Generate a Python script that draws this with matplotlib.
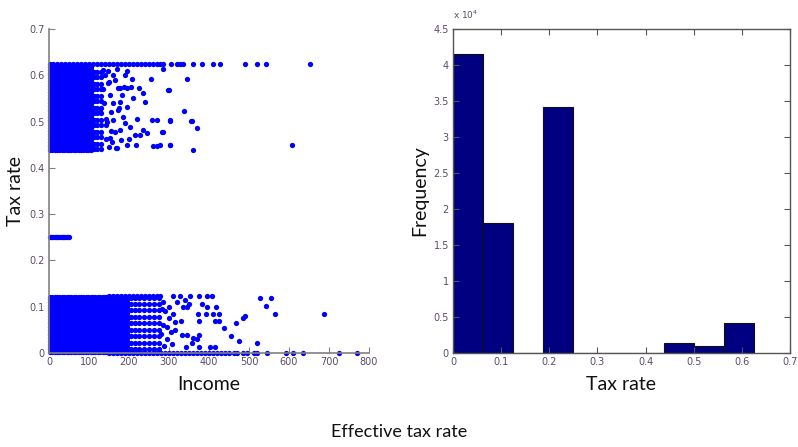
import numpy as np
import matplotlib
matplotlib.use("Agg")
import matplotlib.pyplot as plt
from matplotlib.ticker import FuncFormatter

# ---------------- data ----------------
# dense core of the high-rate band (every income level x every rate level)
upper_core_income = [2, 8, 14, 20, 26, 32, 38, 44, 50, 56, 62, 68, 74, 80, 86, 92,
                     98, 104]
upper_core_tax = [0.438, 0.444, 0.450, 0.456, 0.462, 0.468, 0.474, 0.480, 0.486,
                  0.492, 0.498, 0.504, 0.510, 0.516, 0.522, 0.528, 0.534, 0.540,
                  0.546, 0.552, 0.558, 0.564, 0.570, 0.576, 0.582, 0.588, 0.594,
                  0.600, 0.606, 0.612, 0.618]
upper_edge_income = [112, 121, 130]
upper_edge_tax = [0.440, 0.452, 0.466, 0.478, 0.492, 0.504, 0.518, 0.530, 0.544,
                  0.556, 0.570, 0.582, 0.596, 0.608]
# top line at the maximum rate
top_line_income = [2, 10, 20, 30, 40, 50, 60, 70, 80, 90, 100, 110, 120, 130, 140,
                   150, 160, 170, 180, 190, 200, 210, 220, 230, 240, 250, 260, 270,
                   278, 285, 305, 320, 328, 335, 360, 383, 410, 428, 490, 520, 543, 653]
top_line_tax = 0.625
# scattered points of the high-rate band
upper_scatter_income = [169, 196, 207, 254, 345, 225, 196, 178, 298, 235, 210, 240,
                        178, 195, 173, 338, 185, 220, 257, 270, 302, 357, 160, 190,
                        202, 177, 235, 215, 228, 245, 285, 370, 152, 195, 217, 260,
                        270, 302, 360, 170, 158, 182, 152, 160, 135, 148, 165, 143,
                        128, 285, 300, 303, 355, 283, 278, 303, 608, 140, 150, 138,
                        145, 155, 142, 150, 136, 165, 172, 188, 205, 148, 160, 175,
                        142, 180, 200, 155, 168, 190]
upper_scatter_tax = [0.613, 0.610, 0.593, 0.592, 0.592, 0.572, 0.572, 0.572, 0.568,
                     0.562, 0.551, 0.542, 0.542, 0.531, 0.524, 0.523, 0.510, 0.505,
                     0.503, 0.503, 0.503, 0.501, 0.503, 0.497, 0.488, 0.482, 0.482,
                     0.471, 0.471, 0.475, 0.477, 0.486, 0.464, 0.449, 0.449, 0.447,
                     0.447, 0.449, 0.438, 0.443, 0.456, 0.557, 0.557, 0.600, 0.611,
                     0.583, 0.477, 0.492, 0.521, 0.613, 0.568, 0.501, 0.501, 0.477,
                     0.449, 0.449, 0.449, 0.600, 0.585, 0.540, 0.500, 0.520, 0.462,
                     0.445, 0.570, 0.590, 0.572, 0.575, 0.575, 0.610, 0.540, 0.530,
                     0.505, 0.460, 0.462, 0.480, 0.442, 0.600]

# middle band
mid_income = [2, 5, 8, 11, 14, 17, 20, 23, 26, 29, 32, 35, 38, 41, 44, 47, 50]
mid_tax = 0.25

# dense core of the low-rate band
lower_core_income = [2, 8, 14, 20, 26, 32, 38, 44, 50, 56, 62, 68, 74, 80, 86, 92,
                     98, 104, 110, 116, 122, 128, 134, 140, 146, 152, 158, 164,
                     170, 176, 182, 188, 194]
lower_core_tax = [0.002, 0.008, 0.014, 0.020, 0.026, 0.032, 0.038, 0.044, 0.050,
                  0.056, 0.062, 0.068, 0.074, 0.080, 0.086, 0.092, 0.098, 0.104,
                  0.110, 0.116, 0.122]
lower_edge_income = [204, 215, 226, 238, 250, 262, 274]
lower_edge_tax = [0.008, 0.022, 0.036, 0.050, 0.064, 0.078, 0.092, 0.106, 0.118]
# lines at zero and at the top of the low band
zero_line_income = [150, 160, 170, 180, 190, 200, 210, 220, 230, 240, 250, 260, 270,
                    280, 290, 300, 310, 320, 330, 340, 350, 360, 370, 380, 390, 400,
                    410, 420, 430, 440, 450, 462, 470, 485, 495, 513, 520, 545, 593,
                    610, 635, 725, 770]
low_top_income = [150, 160, 170, 180, 190, 200, 210, 220, 230, 240, 250, 260, 270,
                  278, 310, 328, 353, 375, 395, 408]
low_top_tax = 0.124
# scattered points of the low-rate band
lower_scatter_income = [528, 555, 543, 565, 688, 490, 485, 468, 438, 455, 475, 520,
                        383, 395, 418, 345, 373, 393, 410, 425, 425, 415, 375, 315,
                        295, 315, 332, 345, 360, 375, 370, 342, 375, 403, 415, 358,
                        307, 285, 300, 290, 320, 335, 300, 285, 310, 330, 280, 295,
                        288, 305, 283, 340, 350]
lower_scatter_tax = [0.119, 0.119, 0.101, 0.084, 0.084, 0.080, 0.075, 0.065, 0.054,
                     0.037, 0.026, 0.022, 0.106, 0.099, 0.099, 0.100, 0.084, 0.084,
                     0.084, 0.084, 0.069, 0.069, 0.069, 0.067, 0.056, 0.050, 0.039,
                     0.039, 0.032, 0.039, 0.030, 0.013, 0.013, 0.013, 0.013, 0.022,
                     0.019, 0.110, 0.100, 0.090, 0.110, 0.100, 0.075, 0.060, 0.085,
                     0.070, 0.040, 0.030, 0.015, 0.045, 0.095, 0.115, 0.105]

# histogram of tax rates
bin_left = [0.0, 0.0625, 0.125, 0.1875, 0.25, 0.3125, 0.375, 0.4375, 0.5, 0.5625]
bin_width = 0.0625
freq = [41500, 18000, 0, 34200, 0, 0, 0, 1400, 1000, 4200]

# ---------------- assemble scatter ----------------
ux, uy = np.meshgrid(upper_core_income, upper_core_tax)
ex, ey = np.meshgrid(upper_edge_income, upper_edge_tax)
lx, ly = np.meshgrid(lower_core_income, lower_core_tax)
lex, ley = np.meshgrid(lower_edge_income, lower_edge_tax)

xs = np.concatenate([ux.ravel(), ex.ravel(), top_line_income, upper_scatter_income,
                     mid_income, lx.ravel(), lex.ravel(), zero_line_income,
                     low_top_income, lower_scatter_income])
ys = np.concatenate([uy.ravel(), ey.ravel(), np.full(len(top_line_income), top_line_tax),
                     upper_scatter_tax, np.full(len(mid_income), mid_tax),
                     ly.ravel(), ley.ravel(), np.zeros(len(zero_line_income)),
                     np.full(len(low_top_income), low_top_tax), lower_scatter_tax])

# ---------------- figure ----------------
W, H = 798, 447
fig = plt.figure(figsize=(W / 100, H / 100), dpi=100)
fig.patch.set_facecolor("white")

tick_color = "#5a4a6a"
label_font = "Lato"

# left: scatter
ax1 = fig.add_axes([49 / W, 1 - 353 / H, 320 / W, 324 / H])
ax1.plot(xs, ys, linestyle="none", marker="o", markersize=3.8,
         color="#0000ff", markeredgewidth=0, clip_on=False)
ax1.set_xlim(0, 800)
ax1.set_ylim(0, 0.7)
ax1.set_xticks(np.arange(0, 801, 100))
ax1.set_yticks(np.arange(0, 0.71, 0.1))
ax1.xaxis.set_major_formatter(FuncFormatter(lambda v, p: f"{v:g}"))
ax1.yaxis.set_major_formatter(FuncFormatter(lambda v, p: f"{round(v, 1):g}"))
for s in ["top", "right"]:
    ax1.spines[s].set_visible(False)
for s in ["left", "bottom"]:
    ax1.spines[s].set_color("#808080")
    ax1.spines[s].set_linewidth(1.2)
ax1.tick_params(direction="in", length=4, color="#808080", labelsize=7,
                labelcolor=tick_color, pad=3)
ax1.set_xlabel("Income", fontsize=14, family=label_font, color="#111111", labelpad=6)
ax1.set_ylabel("Tax rate", fontsize=14, family=label_font, color="#111111", labelpad=4)

# right: histogram
ax2 = fig.add_axes([453 / W, 1 - 353 / H, 337 / W, 324 / H])
ax2.bar(bin_left, freq, width=bin_width, align="edge", color="#000080",
        edgecolor="#111111", linewidth=0.8)
ax2.set_xlim(0, 0.7)
ax2.set_ylim(0, 45000)
ax2.set_xticks(np.arange(0, 0.71, 0.1))
ax2.set_yticks(np.arange(0, 45001, 5000))
ax2.xaxis.set_major_formatter(FuncFormatter(lambda v, p: f"{round(v, 1):g}"))
ax2.yaxis.set_major_formatter(FuncFormatter(lambda v, p: f"{v / 1e4:g}"))
for s in ax2.spines.values():
    s.set_color("#555555")
    s.set_linewidth(1.0)
ax2.tick_params(direction="in", length=4, color="#555555", labelsize=7,
                labelcolor=tick_color, top=True, right=True, pad=3)
ax2.set_xlabel("Tax rate", fontsize=14, family=label_font, color="#111111", labelpad=6)
ax2.set_ylabel("Frequency", fontsize=14, family=label_font, color="#111111", labelpad=4)
ax2.text(0.0, 1.025, r"x 10$^4$", transform=ax2.transAxes, fontsize=6.5,
         color=tick_color, ha="left", va="bottom")

fig.text(0.5, 1 - 432 / H, "Effective tax rate", ha="center", va="center",
         fontsize=13, family=label_font, color="#111111")

fig.savefig("out.png", dpi=100, facecolor="white")
